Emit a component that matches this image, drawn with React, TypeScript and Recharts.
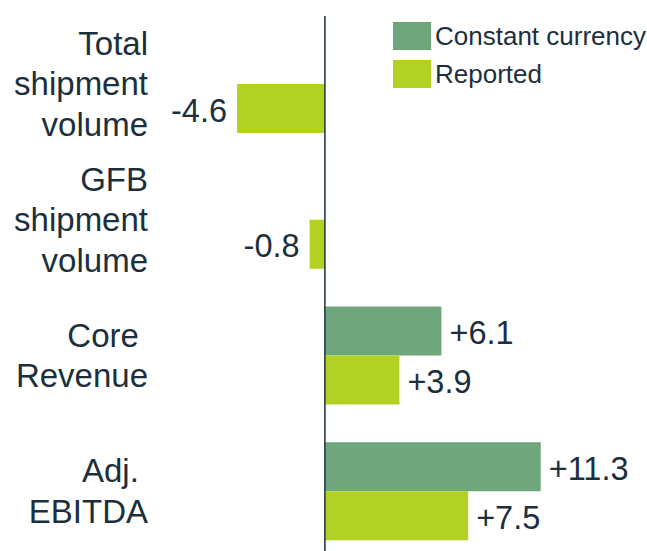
import { BarChart, Bar, XAxis, YAxis, ReferenceLine, LabelList } from "recharts";

const categories = ["Total shipment volume", "GFB shipment volume", "Core Revenue", "Adj. EBITDA"];
const categoryLines = [
  ["Total", "shipment", "volume"],
  ["GFB", "shipment", "volume"],
  ["Core ", "Revenue"],
  ["Adj. ", "EBITDA"],
];
const constantCurrency: (number | null)[] = [null, null, 6.1, 11.3];
const reported: (number | null)[] = [-4.6, -0.8, 3.9, 7.5];

const TEXT = "#1c2f3d";
const GREEN = "#6fa67b";
const LIME = "#b3d122";

const data = categories.map((name, i) => ({
  name,
  cc: constantCurrency[i],
  rep: reported[i],
}));

function CategoryTick(props: any) {
  const { x, y, payload } = props;
  const lines = categoryLines[payload.index] ?? [payload.value];
  const step = 40.5;
  return (
    <text
      x={x}
      y={y}
      textAnchor="end"
      fill={TEXT}
      fontSize={33}
      fontFamily="Liberation Sans, Arial, sans-serif"
      style={{ whiteSpace: "pre" }}
    >
      {lines.map((l: string, i: number) => (
        <tspan key={i} x={x} y={y + (i - (lines.length - 1) / 2) * step} dominantBaseline="central">
          {l}
        </tspan>
      ))}
    </text>
  );
}

function ValueLabel(props: any) {
  const { x, y, width, height, value } = props;
  if (value == null) return null;
  const left = Math.min(x, x + width);
  const right = Math.max(x, x + width);
  const cy = y + height / 2 + 2;
  const neg = value < 0;
  return (
    <text
      x={neg ? left - 10 : right + 8}
      y={cy}
      textAnchor={neg ? "end" : "start"}
      dominantBaseline="central"
      fill={TEXT}
      fontSize={32.5}
      fontFamily="Liberation Sans, Arial, sans-serif"
    >
      {neg ? `${value}` : `+${value}`}
    </text>
  );
}

function LegendBox() {
  const items = [
    { label: "Constant currency", color: GREEN },
    { label: "Reported", color: LIME },
  ];
  return (
    <div style={{ position: "absolute", left: 393, top: 17, fontFamily: "Liberation Sans, Arial, sans-serif" }}>
      {items.map((it) => (
        <div key={it.label} style={{ display: "flex", alignItems: "center", height: 38 }}>
          <div style={{ width: 38, height: 28, background: it.color, marginRight: 4 }} />
          <span style={{ fontSize: 26, color: TEXT, whiteSpace: "nowrap" }}>{it.label}</span>
        </div>
      ))}
    </div>
  );
}

export default function App() {
  return (
    <div style={{ position: "absolute", left: 0, top: 0, width: 647, height: 551, overflow: "hidden", background: "#fff" }}>
      <BarChart
        width={647}
        height={570}
        data={data}
        layout="vertical"
        margin={{ top: 16, right: 16.5, bottom: 11, left: 0 }}
        barGap={0}
        barSize={49}
      >
        <XAxis type="number" domain={[-9, 16]} hide />
        <YAxis
          type="category"
          dataKey="name"
          width={153}
          axisLine={false}
          tickLine={false}
          tickSize={5}
          tickMargin={0}
          tick={<CategoryTick />}
          interval={0}
        />
        <ReferenceLine x={0} stroke={TEXT} strokeWidth={1.5} />
        <Bar dataKey="cc" name="Constant currency" fill={GREEN} isAnimationActive={false}>
          <LabelList dataKey="cc" content={<ValueLabel />} />
        </Bar>
        <Bar dataKey="rep" name="Reported" fill={LIME} isAnimationActive={false}>
          <LabelList dataKey="rep" content={<ValueLabel />} />
        </Bar>
      </BarChart>
      <LegendBox />
    </div>
  );
}
